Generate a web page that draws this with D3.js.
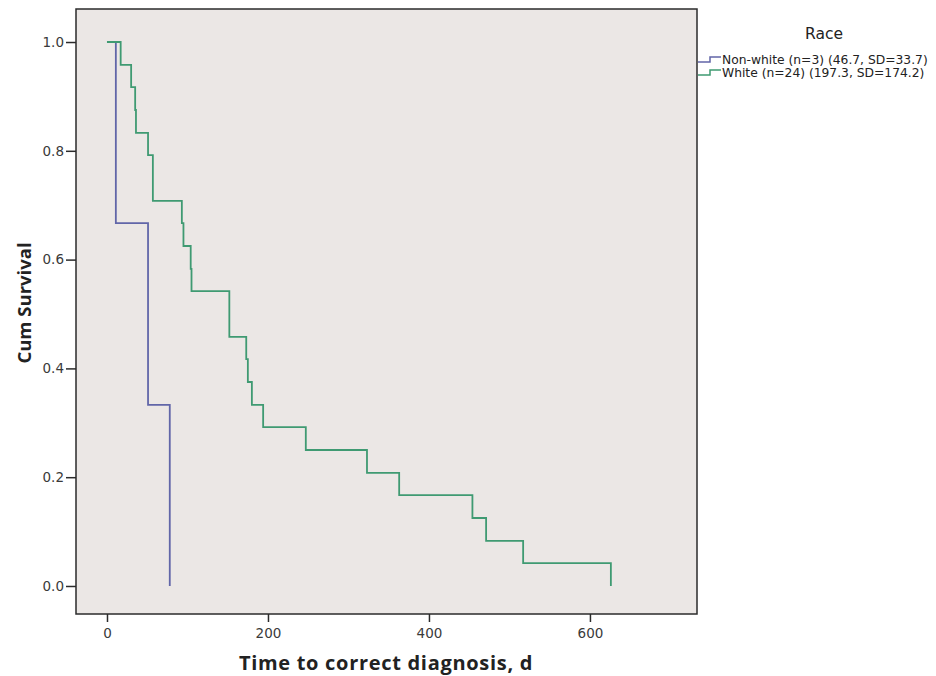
<!DOCTYPE html>
<html>
<head>
<meta charset="utf-8">
<script src="https://cdn.jsdelivr.net/npm/d3@7"></script>
<style>
  body { margin: 0; background: #fff; }
  svg { display: block; }
  .tick text { font-family: "DejaVu Sans", sans-serif; font-size: 13.5px; fill: #3a3a3a; }
</style>
</head>
<body>
<svg id="chart" width="936" height="676"></svg>
<script>
// Kaplan-Meier steps (time in days, survival after the event)
var nonWhiteTimes = [0, 11, 51, 78];
var nonWhiteSurv  = [1, 0.667, 0.333, 0];

var whiteTimes = [0, 17, 30, 35, 36, 51, 57, 93, 95, 104, 105, 152, 173, 175, 180, 194, 247, 323, 363, 454, 471, 517, 626];
var whiteSurv  = [1, 0.958, 0.917, 0.875, 0.833, 0.792, 0.708, 0.667, 0.625, 0.583, 0.542, 0.458,
                  0.417, 0.375, 0.333, 0.292, 0.25, 0.208, 0.167, 0.125, 0.083, 0.042, 0];

var xTicks = [0, 200, 400, 600];
var yTicks = [0, 0.2, 0.4, 0.6, 0.8, 1.0];

var legendTitle = "Race";
var groups = ["Non-white (n=3) (46.7, SD=33.7)", "White (n=24) (197.3, SD=174.2)"];
var colors = ["#6166a8", "#3f9a72"];

(function() {
  var svg = d3.select("#chart");

  // plot frame
  var frame = { left: 76, top: 9, right: 697, bottom: 614 };

  var x = d3.scaleLinear().domain([-38.5, 733]).range([frame.left, frame.right]);
  var y = d3.scaleLinear().domain([-0.0515, 1.0607]).range([frame.bottom, frame.top]);

  svg.append("rect")
    .attr("x", frame.left).attr("y", frame.top)
    .attr("width", frame.right - frame.left).attr("height", frame.bottom - frame.top)
    .attr("fill", "#ebe7e5")
    .attr("stroke", "#2b2b2b")
    .attr("stroke-width", 1.5);

  // axes
  var xAxis = svg.append("g")
    .attr("transform", "translate(0," + frame.bottom + ")")
    .call(d3.axisBottom(x).tickValues(xTicks).tickFormat(d3.format("d")).tickSize(8).tickPadding(6));
  xAxis.select(".domain").remove();
  xAxis.selectAll("line").attr("stroke", "#2b2b2b").attr("stroke-width", 1.5);

  var yAxis = svg.append("g")
    .attr("transform", "translate(" + frame.left + ",0)")
    .call(d3.axisLeft(y).tickValues(yTicks).tickFormat(d3.format(".1f")).tickSize(10).tickPadding(2));
  yAxis.select(".domain").remove();
  yAxis.selectAll("line").attr("stroke", "#2b2b2b").attr("stroke-width", 1.5);

  // axis titles
  svg.append("text")
    .attr("x", 386).attr("y", 670)
    .attr("text-anchor", "middle")
    .style("font-family", "'Open Sans', sans-serif")
    .style("font-weight", "bold")
    .style("font-size", "20px")
    .style("letter-spacing", "0.7px")
    .attr("fill", "#222")
    .text("Time to correct diagnosis, d");

  svg.append("text")
    .attr("transform", "translate(31,303) rotate(-90)")
    .attr("text-anchor", "middle")
    .style("font-family", "'Open Sans', sans-serif")
    .style("font-weight", "bold")
    .style("font-size", "18.5px")
    .attr("fill", "#222")
    .text("Cum Survival");

  // survival curves
  var line = d3.line()
    .x(function(d) { return x(d[0]); })
    .y(function(d) { return y(d[1]); })
    .curve(d3.curveStepAfter);

  var series = [
    d3.zip(nonWhiteTimes, nonWhiteSurv),
    d3.zip(whiteTimes, whiteSurv)
  ];

  svg.selectAll("path.km")
    .data(series)
    .enter().append("path")
    .attr("class", "km")
    .attr("d", line)
    .attr("fill", "none")
    .attr("stroke", function(d, i) { return colors[i]; })
    .attr("stroke-width", 1.8);

  // legend
  svg.append("text")
    .attr("x", 824).attr("y", 39)
    .attr("text-anchor", "middle")
    .style("font-family", "'DejaVu Sans', sans-serif")
    .style("font-size", "15.5px")
    .attr("fill", "#222")
    .text(legendTitle);

  var leg = svg.selectAll("g.leg")
    .data(groups)
    .enter().append("g")
    .attr("class", "leg")
    .attr("transform", function(d, i) { return "translate(698," + (59 + i * 13) + ")"; });

  leg.append("path")
    .attr("d", "M0,3H12V-2H23")
    .attr("fill", "none")
    .attr("stroke", function(d, i) { return colors[i]; })
    .attr("stroke-width", 1.5);

  leg.append("text")
    .attr("x", 24).attr("y", 4.5)
    .style("font-family", "'DejaVu Sans', sans-serif")
    .style("font-size", "12.3px")
    .attr("fill", "#222")
    .text(function(d) { return d; });
})();
</script>
</body>
</html>
